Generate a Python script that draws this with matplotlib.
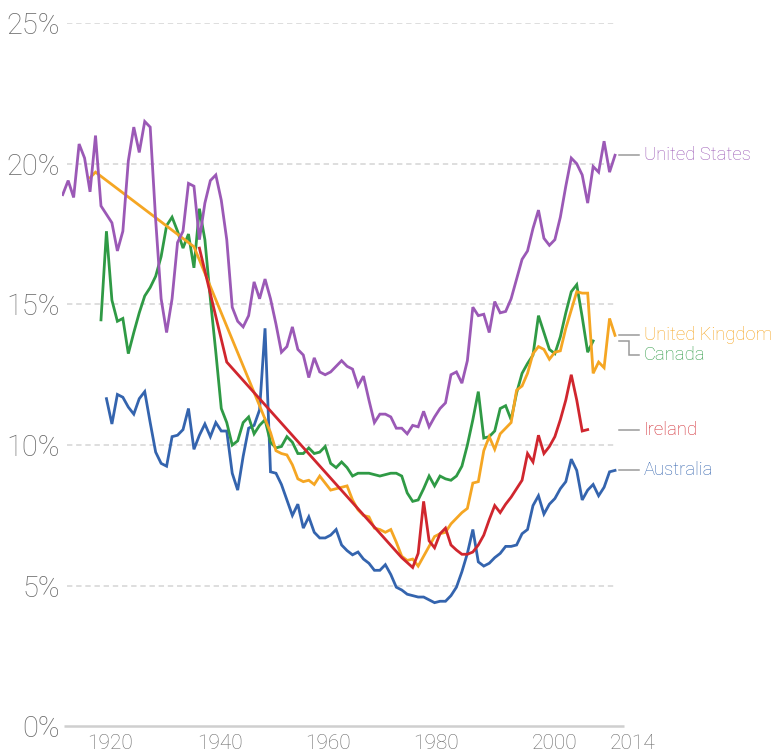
import numpy as np
import matplotlib
matplotlib.use("Agg")
import matplotlib.pyplot as plt
from matplotlib.transforms import ScaledTranslation

# ---------------- data (top income share, %) ----------------
us_years = np.arange(1913, 2015)
us_values = [
    18.9, 19.4, 18.8, 20.7, 20.2, 19.0, 21.0,
    18.5, 18.2, 17.9, 16.9, 17.6, 20.1, 21.3, 20.4, 21.5, 21.3,
    18.0, 15.2, 14.0, 15.2, 17.2, 17.6, 19.3, 19.2, 17.3, 18.6,
    19.4, 19.6, 18.7, 17.3, 14.9, 14.4, 14.2, 14.6, 15.8, 15.2,
    15.9, 15.2, 14.3, 13.3, 13.5, 14.2, 13.4, 13.2, 12.4, 13.1,
    12.6, 12.5, 12.6, 12.8, 13.0, 12.8, 12.7, 12.1, 12.45, 11.6,
    10.8, 11.1, 11.1, 11.0, 10.6, 10.6, 10.4, 10.7, 10.65, 11.2,
    10.65, 11.0, 11.3, 11.5, 12.5, 12.6, 12.2, 13.0, 14.9, 14.6,
    14.65, 14.0, 15.1, 14.7, 14.75, 15.2, 15.9, 16.6, 16.9, 17.7,
    18.35, 17.35, 17.1, 17.3, 18.1, 19.2, 20.2, 20.0, 19.6, 18.6,
    19.9, 19.7, 20.8, 19.7, 20.3,
]

canada_years = np.arange(1920, 2011)
canada_values = [
    14.45, 17.6, 15.15, 14.4, 14.5, 13.25, 14.0, 14.7, 15.3, 15.6,
    16.0, 16.7, 17.8, 18.1, 17.6, 17.0, 17.5, 16.3, 18.4, 17.3,
    15.2, 13.3, 11.3, 10.8, 10.0, 10.15, 10.8, 11.0, 10.4, 10.7,
    10.9, 10.1, 9.9, 9.95, 10.3, 10.1, 9.7, 9.7, 9.9, 9.7,
    9.75, 9.95, 9.35, 9.2, 9.4, 9.2, 8.9, 9.0, 9.0, 9.0,
    8.95, 8.9, 8.95, 9.0, 9.0, 8.9, 8.3, 8.0, 8.05, 8.45,
    8.9, 8.55, 8.9, 8.8, 8.75, 8.9, 9.25, 10.0, 10.9, 11.9,
    10.25, 10.3, 10.5, 11.3, 11.4, 10.9, 11.85, 12.55, 12.9, 13.2,
    14.6, 14.0, 13.4, 13.25, 13.85, 14.7, 15.45, 15.7, 14.55, 13.3,
    13.7,
]

uk_years = [1918, 1919, 1937, 1949] + list(range(1951, 2015))
uk_values = [
    19.5, 19.7, 17.05, 11.4,
    10.45, 9.8, 9.7, 9.65, 9.3, 8.8, 8.7, 8.75, 8.6,
    8.9, 8.65, 8.4, 8.45, 8.5, 8.55, 8.05, 7.7, 7.5, 7.45,
    7.05, 7.0, 6.9, 7.0, 6.55, 6.05, 5.9, 5.95, 5.7, 6.05,
    6.4, 6.75, 6.85, 6.9, 7.2, 7.4, 7.6, 7.75, 8.65, 8.7,
    9.8, 10.3, 9.85, 10.4, 10.6, 10.8, 11.95, 12.1, 12.55, 13.25,
    13.5, 13.4, 13.05, 13.3, 13.35, 14.15, 14.8, 15.45, 15.4, 15.4,
    12.55, 12.95, 12.75, 14.5, 13.9,
]

ireland_years = [1938, 1943, 1975] + list(range(1977, 2010))
ireland_values = [
    17.0, 12.95, 6.0,
    5.65, 6.15, 8.0,
    6.6, 6.35, 6.85, 7.05, 6.45, 6.27, 6.12, 6.12, 6.2, 6.45,
    6.8, 7.35, 7.85, 7.6, 7.9, 8.15, 8.45, 8.75, 9.7, 9.4,
    10.35, 9.7, 9.95, 10.3, 10.9, 11.6, 12.5, 11.6, 10.5, 10.55,
]

australia_years = np.arange(1921, 2015)
australia_values = [
    11.65, 10.75, 11.8, 11.7, 11.35, 11.1, 11.65, 11.9, 10.8,
    9.75, 9.35, 9.25, 10.3, 10.35, 10.55, 11.3, 9.85, 10.35, 10.75,
    10.3, 10.8, 10.5, 10.5, 9.0, 8.4, 9.6, 10.6, 10.7, 11.25,
    14.15, 9.05, 9.0, 8.6, 8.05, 7.5, 7.9, 7.05, 7.45, 6.9,
    6.7, 6.7, 6.8, 7.0, 6.45, 6.25, 6.1, 6.2, 5.95, 5.8,
    5.55, 5.55, 5.75, 5.4, 4.95, 4.85, 4.7, 4.65, 4.6, 4.6,
    4.5, 4.4, 4.45, 4.45, 4.65, 4.95, 5.5, 6.15, 7.0, 5.85,
    5.7, 5.8, 6.0, 6.15, 6.4, 6.4, 6.45, 6.85, 7.0, 7.85,
    8.2, 7.55, 7.9, 8.1, 8.45, 8.7, 9.5, 9.1, 8.05, 8.4,
    8.6, 8.2, 8.5, 9.05, 9.1,
]

country_names = ["United States", "United Kingdom", "Canada", "Ireland", "Australia"]
y_ticks = [0, 5, 10, 15, 20, 25]
y_tick_labels = ["0%", "5%", "10%", "15%", "20%", "25%"]
x_ticks = [1920, 1940, 1960, 1980, 2000, 2014]
x_tick_labels = ["1920", "1940", "1960", "1980", "2000", "2014"]

# ---------------- style ----------------
plt.rcParams["font.family"] = ["Roboto", "DejaVu Sans"]
COL = {
    "United States": "#9B59B6",
    "United Kingdom": "#F5A623",
    "Canada": "#2F9A45",
    "Ireland": "#D0262E",
    "Australia": "#3464AE",
}
GRAY_TXT = "#6a6a6a"

fig = plt.figure(figsize=(7.72, 7.54), dpi=100)
ax = fig.add_axes([0.0798, 0.0365, 0.7289, 0.9330])
ax.set_xlim(1912.8, 2015.7)
ax.set_ylim(0, 25)
for s in ax.spines.values():
    s.set_visible(False)

# gridlines
ax.hlines([5, 10, 15, 20, 25], 1913.8, 2014.0, colors="#d4d4d4",
          linestyles=(0, (3.5, 2.5)), linewidth=1.1, zorder=1)
ax.hlines([0], 1913.2, 2015.7, colors="#cfcfcf", linewidth=1.8, zorder=1, clip_on=False)

lw = 2.0
series = [
    ("Australia", australia_years, australia_values),
    ("Canada", canada_years, canada_values),
    ("United Kingdom", uk_years, uk_values),
    ("Ireland", ireland_years, ireland_values),
    ("United States", us_years, us_values),
]
for name, yrs, vals in series:
    ax.plot(yrs, vals, color=COL[name], lw=lw, solid_joinstyle="miter", zorder=3)

# ticks
ax.set_yticks(y_ticks)
ax.set_yticklabels(y_tick_labels, fontsize=21, color=GRAY_TXT, fontweight="light")
ax.set_xticks(x_ticks)
ax.set_xticklabels(x_tick_labels, fontsize=15, color=GRAY_TXT, fontweight="light")
ax.tick_params(axis="both", length=0)
ax.tick_params(axis="y", pad=1)
ax.tick_params(axis="x", pad=5.5)
x_offsets_px = [9, 9.5, 8.3, 7, 16.5, 18]
for lab, dx in zip(ax.get_xticklabels(), x_offsets_px):
    lab.set_transform(lab.get_transform() + ScaledTranslation(dx / 100, 0, fig.dpi_scale_trans))

# right-hand labels
x_line0, x_line1, x_text = 2014.75, 2018.4, 2019.3
last = {
    "United States": us_values[-1],
    "United Kingdom": uk_values[-1],
    "Canada": canada_values[-1],
    "Ireland": ireland_values[-1],
    "Australia": australia_values[-1],
}
label_y = {
    "United States": us_values[-1],
    "United Kingdom": uk_values[-1],
    "Canada": 13.2,
    "Ireland": ireland_values[-1],
    "Australia": australia_values[-1],
}
for name in country_names:
    ly = label_y[name]
    if name == "Canada":
        xm = 2016.6
        ax.plot([x_line0, xm, xm, x_line1], [last[name], last[name], ly, ly],
                color="#9a9a9a", lw=1.1, clip_on=False, solid_joinstyle="miter")
    else:
        ax.plot([x_line0, x_line1], [ly, ly], color="#9a9a9a", lw=1.1, clip_on=False)
    ax.text(x_text, ly, name, color=COL[name], fontsize=13.3, fontweight="light",
            va="center", ha="left", clip_on=False)

fig.savefig("out.png", dpi=100)
